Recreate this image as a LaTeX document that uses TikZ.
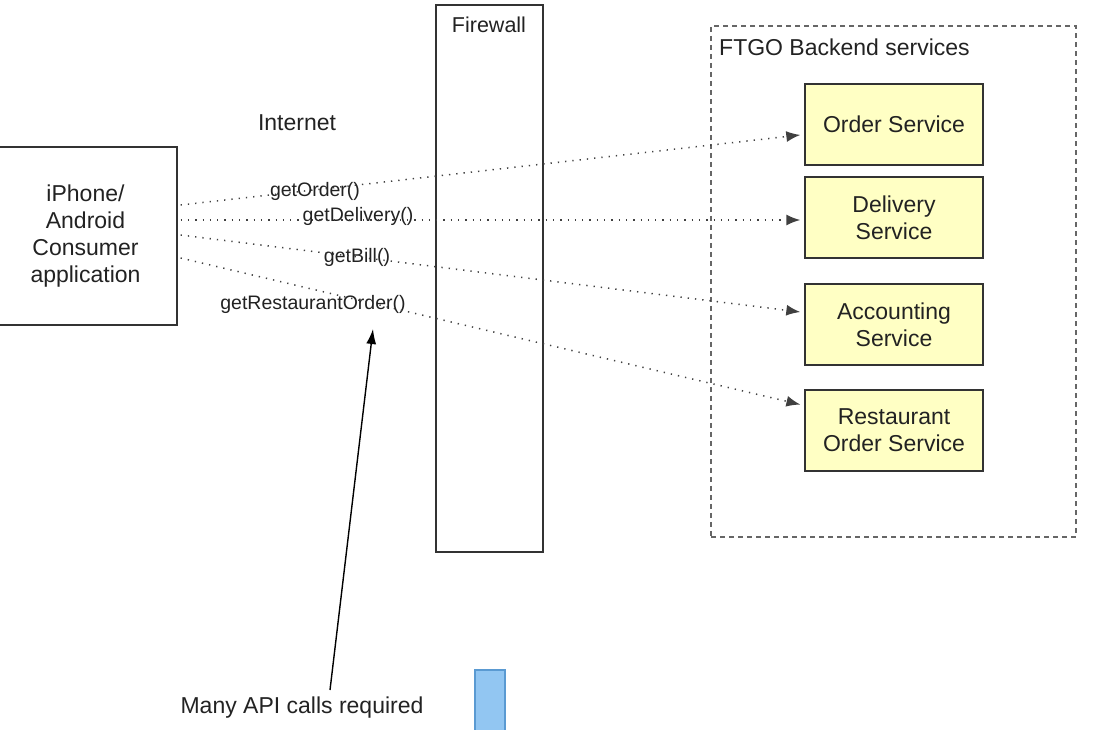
\documentclass[tikz,border=0pt]{standalone}
\usepackage{fontspec}
\setmainfont{Liberation Sans}
\usetikzlibrary{arrows.meta,calc}
\definecolor{svcfill}{HTML}{FFFFC4}
\definecolor{boxline}{HTML}{333333}
\definecolor{txt}{HTML}{222222}
\definecolor{bluefill}{HTML}{92C6F2}
\definecolor{blueline}{HTML}{5A9AD2}
\begin{document}
\begin{tikzpicture}[x=1pt,y=-1pt,
  every node/.style={text=txt},
  bigtext/.style={font=\fontsize{23}{27}\selectfont},
  calltext/.style={font=\fontsize{19.5}{23}\selectfont, inner sep=0pt},
  svc/.style={draw=boxline, line width=1.4pt, fill=svcfill, minimum width=178pt, minimum height=81pt, align=center, bigtext},
  plainbox/.style={draw=boxline, line width=1.2pt, fill=white},
  call/.style={draw=black!75, line width=1.5pt, dash pattern=on 1.3pt off 6pt, shorten >=4pt, -{Latex[length=14pt,width=11pt]}},
]
\useasboundingbox (0,0) rectangle (1096,730);
% backend group
\node[draw=black!60, line width=1.3pt, dashed, dash pattern=on 5pt off 4pt, minimum width=365pt, minimum height=511pt, inner sep=0pt] (backend) at (893.5,281.5) {};
\node[bigtext, anchor=west, inner sep=0pt] (backendlbl) at (719,47) {FTGO Backend services};
% firewall
\node[plainbox, minimum width=107pt, minimum height=547pt, inner sep=0pt] (firewall) at (489.5,278.5) {};
\node[font=\fontsize{21.5}{25}\selectfont, inner sep=0pt] (firewalllbl) at (489,25) {Firewall};
% consumer
\node[plainbox, minimum width=183pt, minimum height=178pt, align=center, bigtext, inner sep=0pt] (consumer) at (85.5,236) {iPhone/\\Android\\Consumer\\application};
% services
\node[svc] (order) at (894,124.5) {Order Service};
\node[svc] (delivery) at (894,217.5) {Delivery\\Service};
\node[svc] (accounting) at (894,324.5) {Accounting\\Service};
\node[svc] (restaurant) at (894,430.5) {Restaurant\\Order Service};
% labels
\node[bigtext, inner sep=0pt] (internet) at (297,123) {Internet};
\node[calltext] (l1) at (315,191) {getOrder()};
\node[calltext] (l2) at (358,216) {getDelivery()};
\node[calltext] (l3) at (357,257) {getBill()};
\node[calltext] (l4) at (313,304) {getRestaurantOrder()};
% calls
\draw[call] ([xshift=3pt,yshift=31pt]consumer.east) -- ([yshift=-10pt]order.west);
\draw[call] ([xshift=3pt,yshift=16pt]consumer.east) -- ([yshift=-2.5pt]delivery.west);
\draw[call] ([xshift=3pt,yshift=1pt]consumer.east) -- ([yshift=12pt]accounting.west);
\draw[call] ([xshift=3pt,yshift=-22pt]consumer.east) -- ([yshift=25pt]restaurant.west);
% annotation
\node[bigtext, inner sep=0pt] (many) at (302,708) {Many API calls required};
\coordinate (tail) at (330,690);
\coordinate (head) at (373,329);
\draw[line width=1.4pt, black, -{Latex[length=15pt,width=10pt]}] (tail) -- (head);
% blue bar
\node[draw=blueline, line width=1.2pt, fill=bluefill, minimum width=30pt, minimum height=70pt, inner sep=0pt] (bar) at (490,705) {};
\end{tikzpicture}
\end{document}
